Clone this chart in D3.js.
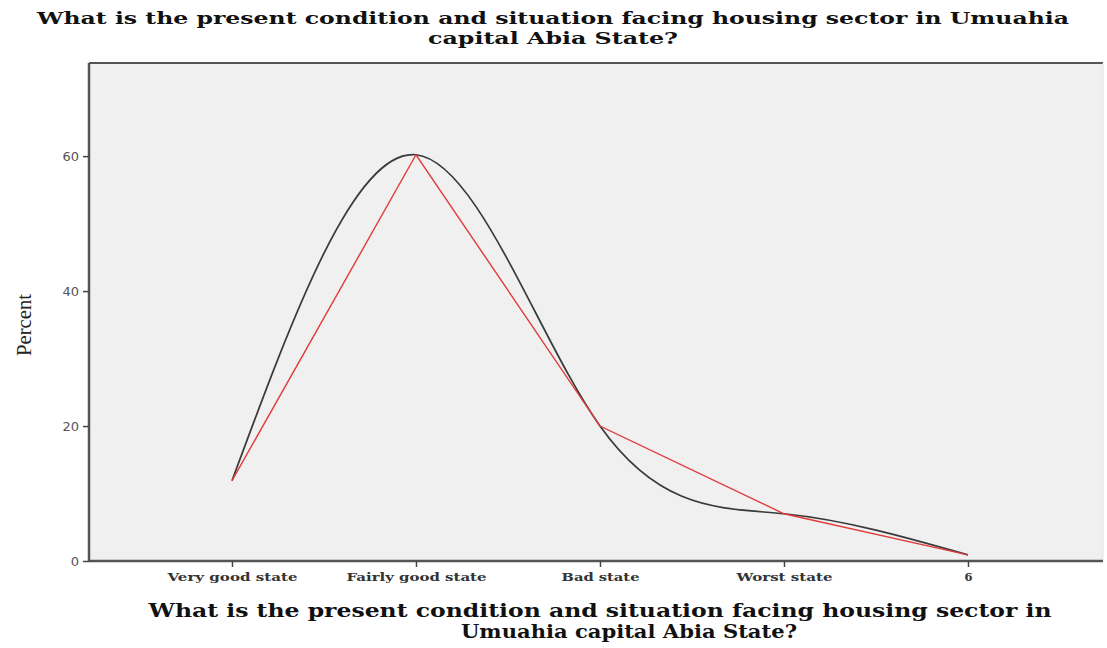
<!DOCTYPE html>
<html>
<head>
<meta charset="utf-8">
<script src="https://cdn.jsdelivr.net/npm/d3@7"></script>
<style>
  html, body { margin: 0; padding: 0; background: #fff; }
  svg { display: block; }
</style>
</head>
<body>
<div id="chart"></div>
<script>
// ---- data ----
const categories = ["Very good state", "Fairly good state", "Bad state", "Worst state", "6"];
const percentValues = [11.9, 60.2, 20.0, 7.0, 0.9];
const yTicks = [0, 20, 40, 60];
const titleLines = ["What is the present condition and situation facing housing sector in Umuahia", "capital Abia State?"];
const xTitleLines = ["What is the present condition and situation facing housing sector in", "Umuahia capital Abia State?"];
const yTitle = "Percent";

// ---- layout ----
const W = 1107, H = 648;
const plot = { left: 89, top: 63, right: 1103, bottom: 561 };

const svg = d3.select("#chart").append("svg").attr("width", W).attr("height", H);

const x = d3.scalePoint().domain(categories).range([232, 968]);
const y = d3.scaleLinear().domain([0, 73.8]).range([plot.bottom, plot.top]);

// background
svg.append("rect")
  .attr("x", plot.left).attr("y", plot.top)
  .attr("width", plot.right - plot.left).attr("height", plot.bottom - plot.top)
  .attr("fill", "#f0f0f0");
// top border
svg.append("line").attr("x1", plot.left).attr("x2", plot.right)
  .attr("y1", plot.top).attr("y2", plot.top)
  .attr("stroke", "#555").attr("stroke-width", 2);
svg.append("line").attr("x1", plot.right).attr("x2", plot.right)
  .attr("y1", plot.top).attr("y2", plot.bottom)
  .attr("stroke", "#e4e4e4").attr("stroke-width", 1);

// lines
const data = categories.map((c, i) => ({ c, v: percentValues[i] }));
const smooth = d3.line().x(d => x(d.c)).y(d => y(d.v)).curve(d3.curveNatural);
const straight = d3.line().x(d => x(d.c)).y(d => y(d.v));

svg.append("path").datum(data).attr("d", smooth)
  .attr("fill", "none").attr("stroke", "#3a3a3a").attr("stroke-width", 1.7);
svg.append("path").datum(data).attr("d", straight)
  .attr("fill", "none").attr("stroke", "#e23a3a").attr("stroke-width", 1.4);

// y axis
const yAxis = svg.append("g").attr("transform", `translate(${plot.left},0)`)
  .call(d3.axisLeft(y).tickValues(yTicks).tickSize(6).tickPadding(4).tickFormat(d3.format("d")));
yAxis.select(".domain").attr("stroke", "#555").attr("stroke-width", 2.5)
  .attr("d", `M0,${plot.top}V${plot.bottom}`);
yAxis.selectAll(".tick line").attr("stroke", "#444").attr("stroke-width", 1.5);
yAxis.selectAll(".tick text").attr("fill", "#555")
  .style("font-family", "'DejaVu Sans', sans-serif").style("font-size", "13px");

// x axis
const xAxis = svg.append("g").attr("transform", `translate(0,${plot.bottom})`)
  .call(d3.axisBottom(x).tickSize(6).tickPadding(6));
xAxis.select(".domain").attr("stroke", "#555").attr("stroke-width", 2.5)
  .attr("d", `M${plot.left},0H${plot.right}`);
xAxis.selectAll(".tick line").attr("stroke", "#444").attr("stroke-width", 1.5);
const tickWidths = { "Very good state": 130, "Fairly good state": 140, "Bad state": 78, "Worst state": 96, "6": 8 };
xAxis.selectAll(".tick text").attr("fill", "#333")
  .style("font-family", "'DejaVu Serif', serif").style("font-size", "11px").style("font-weight", "bold")
  .attr("textLength", d => tickWidths[d]).attr("lengthAdjust", "spacingAndGlyphs");

// title
const titleWidths = [1032, 250];
titleLines.forEach((t, i) => {
  svg.append("text").attr("x", 553).attr("y", 24 + i * 20)
    .attr("text-anchor", "middle")
    .attr("textLength", titleWidths[i]).attr("lengthAdjust", "spacingAndGlyphs")
    .style("font-family", "'DejaVu Serif', serif").style("font-weight", "bold").style("font-size", "17px")
    .attr("fill", "#111").text(t);
});

// x title
const xTitleWidths = [903, 336];
const xTitleCenters = [600, 629];
xTitleLines.forEach((t, i) => {
  svg.append("text").attr("x", xTitleCenters[i]).attr("y", 617 + i * 21)
    .attr("text-anchor", "middle")
    .attr("textLength", xTitleWidths[i]).attr("lengthAdjust", "spacingAndGlyphs")
    .style("font-family", "'DejaVu Serif', serif").style("font-weight", "bold").style("font-size", "19px")
    .attr("fill", "#111").text(t);
});

// y title
svg.append("text").attr("transform", "translate(31,325) rotate(-90)")
  .attr("text-anchor", "middle")
  .attr("textLength", 62).attr("lengthAdjust", "spacingAndGlyphs")
  .style("font-family", "'Liberation Serif', serif").style("font-size", "21px")
  .attr("fill", "#222").text(yTitle);
</script>
</body>
</html>
